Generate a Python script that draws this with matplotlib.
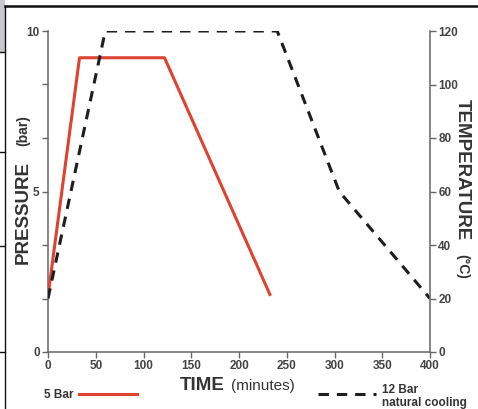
import matplotlib
matplotlib.use("Agg")
import matplotlib.pyplot as plt
from matplotlib.lines import Line2D
import numpy as np

# temperature profiles (minutes, degC)
time_5bar = [0, 33, 122, 233]
temp_5bar = [21, 110, 110, 21]
time_12bar = [0, 60, 240, 305, 400]
temp_12bar = [20, 120, 120, 60, 20]

pressure_ticks = np.linspace(0, 10, 7)
pressure_labels = ["0", "", "", "5", "", "", "10"]
time_ticks = [0, 50, 100, 150, 200, 250, 300, 350, 400]
temp_ticks = [0, 20, 40, 60, 80, 100, 120]

W, H = 478, 409
RED = "#dc4330"
GREY = "#444444"

plt.rcParams['font.family'] = ['Liberation Sans', 'DejaVu Sans']


def px(x, y):
    return x / W, 1 - y / H


def main():
    fig = plt.figure(figsize=(W / 100, H / 100), dpi=100)
    x0, y1 = px(48, 31)
    x1, y0 = px(430, 352)
    ax = fig.add_axes([x0, y0, x1 - x0, y1 - y0])
    ax2 = ax.twinx()

    ax.set_xlim(0, 400)
    ax.set_ylim(0, 10)
    ax2.set_ylim(0, 120)

    ax2.plot(time_5bar, temp_5bar, color=RED, lw=2.2, solid_capstyle="butt")
    ax2.plot(time_12bar, temp_12bar, color="#1e1e1e", lw=2.2,
             linestyle=(0, (3.4, 2.6)))

    ax.set_xticks(time_ticks)
    ax.set_yticks(pressure_ticks)
    ax.set_yticklabels(pressure_labels)
    ax2.set_yticks(temp_ticks)

    for a in (ax, ax2):
        a.spines["top"].set_visible(False)
        for s in ("left", "right", "bottom"):
            a.spines[s].set_color("#666666")
            a.spines[s].set_linewidth(1.1)
        a.tick_params(direction="out", length=4, width=1.0, color="#666666",
                      labelsize=8.5, labelcolor=GREY, pad=2)
        for lab in a.get_xticklabels() + a.get_yticklabels():
            lab.set_fontweight("bold")
    ax.spines["right"].set_visible(False)
    ax2.spines["left"].set_visible(False)
    ax2.spines["bottom"].set_visible(False)

    # axis titles
    fig.text(*px(23, 212), "PRESSURE", rotation=90, ha="center", va="center",
             fontsize=13.5, fontweight="bold", color="#333333")
    fig.text(*px(23, 131), "(bar)", rotation=90, ha="center", va="center",
             fontsize=10, fontweight="bold", color="#333333")
    fig.text(*px(462, 170), "TEMPERATURE", rotation=-90, ha="center", va="center",
             fontsize=13.5, fontweight="bold", color="#333333")
    fig.text(*px(462, 266), "(°C)", rotation=-90, ha="center", va="center",
             fontsize=10, fontweight="bold", color="#333333")
    fig.text(*px(180, 386), "TIME", ha="left", va="center",
             fontsize=13.5, fontweight="bold", color="#333333")
    fig.text(*px(231, 386), "(minutes)", ha="left", va="center",
             fontsize=11, color="#333333")

    # legend
    fig.text(*px(44, 395), "5 Bar", ha="left", va="center",
             fontsize=8.5, fontweight="bold", color="#333333")
    fig.add_artist(Line2D([79 / W, 137 / W], [1 - 394 / H] * 2,
                          color=RED, lw=2.2))
    fig.add_artist(Line2D([318 / W, 376 / W], [1 - 394 / H] * 2,
                          color="#1e1e1e", lw=2.2, linestyle=(0, (3.4, 2.6))))
    fig.text(*px(382, 390), "12 Bar", ha="left", va="center",
             fontsize=8.5, fontweight="bold", color="#333333")
    fig.text(*px(382, 403), "natural cooling", ha="left", va="center",
             fontsize=8.5, fontweight="bold", color="#333333")

    # scanned page edges
    fig.add_artist(Line2D([5 / W, 1], [1 - 6 / H] * 2, color="#111111", lw=1.8))
    fig.add_artist(Line2D([5 / W, 5 / W], [0, 1 - 6 / H], color="#111111", lw=1.0))
    fig.add_artist(plt.Rectangle((0, 1 - 52 / H), 5 / W, 52 / H,
                                 transform=fig.transFigure, color="#c8c8cc", lw=0))
    for yy in (52, 152, 246, 352):
        fig.add_artist(Line2D([0, 5 / W], [1 - yy / H] * 2, color="#111111", lw=1.0))

    fig.savefig("out.png", dpi=100)


if __name__ == "__main__":
    main()
